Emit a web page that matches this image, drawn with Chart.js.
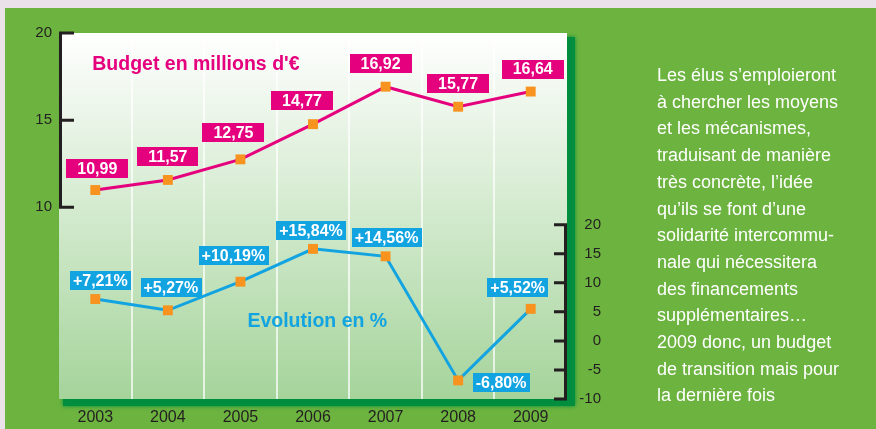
<!DOCTYPE html>
<html>
<head>
<meta charset="utf-8">
<script src="https://cdn.jsdelivr.net/npm/chart.js@4.4.1/dist/chart.umd.min.js"></script>
<style>
  html, body { margin: 0; padding: 0; }
  body { width: 876px; height: 429px; background: #ebe1eb; position: relative; overflow: hidden; }
  #green { position: absolute; left: 5px; top: 8px; right: 0; bottom: 0; background: #6cb33f; }
  #mycanvas { position: absolute; left: 0; top: 0; }
  #note {
    position: absolute; left: 657px; top: 62px;
    color: #fff; font-family: "Liberation Sans", Arial, sans-serif;
    font-size: 18px; line-height: 26.7px; white-space: nowrap;
  }
</style>
</head>
<body>
<div id="green"></div>
<canvas id="mycanvas" width="876" height="429"></canvas>
<div id="note">Les élus s’emploieront<br>à chercher les moyens<br>et les mécanismes,<br>traduisant de manière<br>très concrète, l’idée<br>qu’ils se font d’une<br>solidarité intercommu-<br>nale qui nécessitera<br>des financements<br>supplémentaires…<br>2009 donc, un budget<br>de transition mais pour<br>la dernière fois</div>
<script>
var years = ['2003', '2004', '2005', '2006', '2007', '2008', '2009'];
var budget = [10.99, 11.57, 12.75, 14.77, 16.92, 15.77, 16.64];
var evolution = [7.21, 5.27, 10.19, 15.84, 14.56, -6.80, 5.52];
var budgetTicks = [10, 15, 20];
var evolutionTicks = [-10, -5, 0, 5, 10, 15, 20];

// label nudges [dx, gap above point]
var budgetLabelShift = [[2, 12], [0, 14], [-7, 17], [-11, 14], [-5, 14], [0, 14], [2, 13]];
var evolLabelShift = [[5, 9], [3, 13], [-7, 17], [-2, 9], [1, 9], [43, -12], [-13, 12]];

var MAGENTA = '#e5007e';
var BLUE = '#12a3e1';
var ORANGE = '#f7931e';
var INK = '#231f20';
var FONT = '"Liberation Sans", Arial, sans-serif';

function fmt(v) { return v.toFixed(2).replace('.', ','); }

var panelPlugin = {
	id: 'panel',
	beforeDraw: function(chart) {
		var ctx = chart.ctx, a = chart.chartArea;
		ctx.save();
		ctx.shadowColor = '#008d3e';
		ctx.shadowBlur = 4;
		ctx.fillStyle = '#008d3e';
		ctx.fillRect(a.left + 4, a.top + 4, a.right - a.left + 4, a.bottom - a.top + 3);
		ctx.restore();
		var g = ctx.createLinearGradient(0, a.top, 0, a.bottom);
		g.addColorStop(0, '#ffffff');
		g.addColorStop(1, '#a5d49b');
		ctx.fillStyle = g;
		ctx.fillRect(a.left, a.top, a.right - a.left, a.bottom - a.top);
	},
	beforeDatasetsDraw: function(chart) {
		var ctx = chart.ctx, a = chart.chartArea;
		var yb = chart.scales.yB, yp = chart.scales.yP;
		ctx.save();
		ctx.strokeStyle = INK;
		ctx.lineWidth = 3;
		ctx.lineCap = 'square';
		// left axis
		var lx = a.left + 1.5;
		ctx.beginPath();
		ctx.moveTo(lx, yb.getPixelForValue(budgetTicks[budgetTicks.length - 1]));
		ctx.lineTo(lx, yb.getPixelForValue(budgetTicks[0]));
		budgetTicks.forEach(function(v) {
			var y = yb.getPixelForValue(v);
			ctx.moveTo(lx, y);
			ctx.lineTo(lx + 12, y);
		});
		ctx.stroke();
		// right axis
		var rx = a.right - 1.5;
		ctx.beginPath();
		ctx.moveTo(rx, yp.getPixelForValue(evolutionTicks[evolutionTicks.length - 1]));
		ctx.lineTo(rx, yp.getPixelForValue(evolutionTicks[0]));
		evolutionTicks.forEach(function(v) {
			var y = yp.getPixelForValue(v);
			ctx.moveTo(rx, y);
			ctx.lineTo(rx - 10, y);
		});
		ctx.stroke();
		ctx.restore();

		// series titles
		var x = chart.scales.x;
		ctx.save();
		ctx.font = 'bold 19.5px ' + FONT;
		ctx.textBaseline = 'alphabetic';
		ctx.textAlign = 'left';
		ctx.fillStyle = MAGENTA;
		ctx.fillText("Budget en millions d'€", x.getPixelForValue(0) - 3, yb.getPixelForValue(17.85));
		ctx.fillStyle = BLUE;
		ctx.fillText('Evolution en %', x.getPixelForValue(2) + 7, yp.getPixelForValue(2.4));
		ctx.restore();
	},
	afterDatasetsDraw: function(chart) {
		var ctx = chart.ctx;
		ctx.save();
		ctx.font = 'bold 16px ' + FONT;
		ctx.textAlign = 'center';
		ctx.textBaseline = 'middle';
		var sets = [
			{ idx: 0, color: MAGENTA, padX: 11, shift: budgetLabelShift, text: function(v) { return fmt(v); } },
			{ idx: 1, color: BLUE, padX: 3, shift: evolLabelShift, text: function(v) { return (v > 0 ? '+' : '') + fmt(v) + '%'; } }
		];
		sets.forEach(function(s) {
			var meta = chart.getDatasetMeta(s.idx);
			var data = chart.data.datasets[s.idx].data;
			meta.data.forEach(function(pt, i) {
				var t = s.text(data[i]);
				var w = ctx.measureText(t).width + 2 * s.padX;
				var h = 19;
				var cx = pt.x + s.shift[i][0];
				var bottom = pt.y - s.shift[i][1];
				ctx.fillStyle = s.color;
				ctx.fillRect(Math.round(cx - w / 2), Math.round(bottom - h), Math.round(w), h);
				ctx.fillStyle = '#ffffff';
				ctx.fillText(t, cx, bottom - h / 2 + 1);
			});
		});
		ctx.restore();
	}
};

var ctx = document.getElementById('mycanvas');

var chart = new Chart(ctx, {
	type: 'line',
	data: {
		labels: years,
		datasets: [
			{
				label: 'Budget en millions d\'€',
				data: budget,
				yAxisID: 'yB',
				borderColor: MAGENTA,
				borderWidth: 3,
				pointStyle: 'rect',
				pointRadius: 7,
				pointBorderWidth: 0,
				pointBackgroundColor: ORANGE,
				tension: 0
			},
			{
				label: 'Evolution en %',
				data: evolution,
				yAxisID: 'yP',
				borderColor: BLUE,
				borderWidth: 3,
				pointStyle: 'rect',
				pointRadius: 7,
				pointBorderWidth: 0,
				pointBackgroundColor: ORANGE,
				tension: 0
			}
		]
	},
	options: {
		responsive: false,
		animation: false,
		devicePixelRatio: 1,
		layout: { padding: { top: 33, left: 0, right: 275, bottom: 0 } },
		plugins: { legend: { display: false }, tooltip: { enabled: false } },
		scales: {
			x: {
				offset: true,
				border: { display: false },
				grid: {
					offset: true,
					drawTicks: false,
					lineWidth: 2,
					color: function(c) {
						return (c.type !== 'tick' || c.index === 0) ? 'rgba(0,0,0,0)' : 'rgba(255,255,255,0.7)';
					}
				},
				ticks: { color: INK, padding: 9, font: { family: FONT, size: 16 } },
				afterFit: function(s) { s.height = 30; }
			},
			yB: {
				position: 'left',
				min: -1,
				max: 20,
				grid: { display: false, drawTicks: false },
				border: { display: false },
				afterBuildTicks: function(s) { s.ticks = budgetTicks.map(function(v) { return { value: v }; }); },
				ticks: { color: INK, padding: 7, font: { family: FONT, size: 15 } },
				afterFit: function(s) { s.width = 59; }
			},
			yP: {
				position: 'right',
				min: -10,
				max: 53,
				grid: { display: false, drawTicks: false },
				border: { display: false },
				afterBuildTicks: function(s) { s.ticks = evolutionTicks.map(function(v) { return { value: v }; }); },
				ticks: { color: INK, crossAlign: 'far', font: { family: FONT, size: 15 } },
				afterFit: function(s) { s.width = 34; }
			}
		}
	},
	plugins: [panelPlugin]
});
</script>
</body>
</html>
